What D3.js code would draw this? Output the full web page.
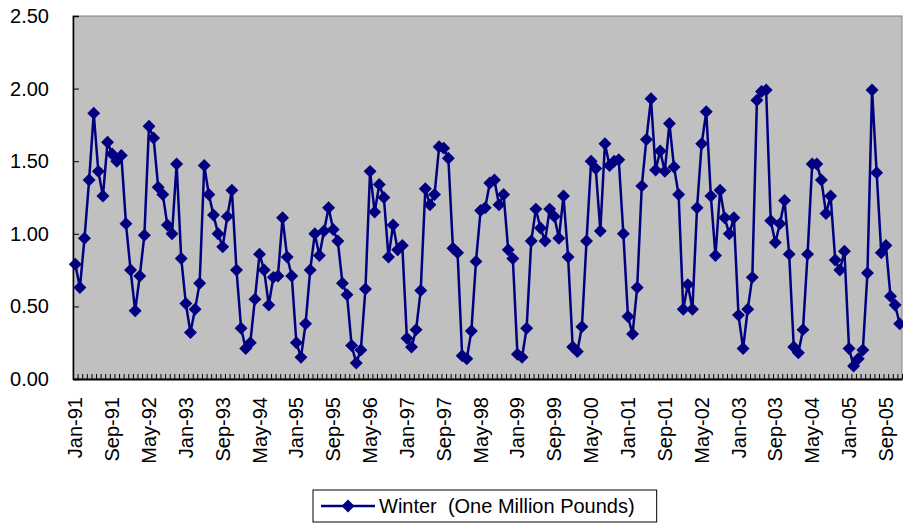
<!DOCTYPE html>
<html>
<head>
<meta charset="utf-8">
<title>Winter</title>
<script src="https://d3js.org/d3.v7.min.js"></script>
<style>
  body { margin: 0; background: #fff; }
  svg text { font-family: Arial, "Liberation Sans", sans-serif; fill: #000; }
</style>
</head>
<body>
<script>
// month names and years for the category axis
var monthNames = ["Jan","Feb","Mar","Apr","May","Jun","Jul","Aug","Sep","Oct","Nov","Dec"];
var years = [91,92,93,94,95,96,97,98,99,0,1,2,3,4,5];

// Winter (One Million Pounds), monthly, Jan-91 .. Dec-05
var y1991 = [0.79,0.63,0.97,1.37,1.83,1.43,1.26,1.63,1.55,1.50,1.54,1.07];
var y1992 = [0.75,0.47,0.71,0.99,1.74,1.66,1.32,1.27,1.06,1.00,1.48,0.83];
var y1993 = [0.52,0.32,0.48,0.66,1.47,1.27,1.13,1.00,0.91,1.12,1.30,0.75];
var y1994 = [0.35,0.21,0.25,0.55,0.86,0.75,0.51,0.70,0.71,1.11,0.84,0.71];
var y1995 = [0.25,0.15,0.38,0.75,1.00,0.85,1.02,1.18,1.03,0.95,0.66,0.58];
var y1996 = [0.23,0.11,0.20,0.62,1.43,1.15,1.34,1.25,0.84,1.06,0.89,0.92];
var y1997 = [0.28,0.22,0.34,0.61,1.31,1.20,1.27,1.60,1.59,1.52,0.90,0.87];
var y1998 = [0.16,0.14,0.33,0.81,1.16,1.18,1.35,1.37,1.20,1.27,0.89,0.83];
var y1999 = [0.17,0.15,0.35,0.95,1.17,1.04,0.95,1.17,1.12,0.97,1.26,0.84];
var y2000 = [0.22,0.19,0.36,0.95,1.50,1.45,1.02,1.62,1.47,1.50,1.51,1.00];
var y2001 = [0.43,0.31,0.63,1.33,1.65,1.93,1.44,1.57,1.43,1.76,1.46,1.27];
var y2002 = [0.48,0.65,0.48,1.18,1.62,1.84,1.26,0.85,1.30,1.11,1.00,1.11];
var y2003 = [0.44,0.21,0.48,0.70,1.92,1.98,1.99,1.09,0.94,1.07,1.23,0.86];
var y2004 = [0.22,0.18,0.34,0.86,1.48,1.48,1.37,1.14,1.26,0.82,0.75,0.88];
var y2005 = [0.21,0.09,0.14,0.20,0.73,1.99,1.42,0.87,0.92,0.57,0.51,0.38];

var xTickLabels = ["Jan-91","Sep-91","May-92","Jan-93","Sep-93","May-94","Jan-95","Sep-95",
  "May-96","Jan-97","Sep-97","May-98","Jan-99","Sep-99","May-00","Jan-01","Sep-01",
  "May-02","Jan-03","Sep-03","May-04","Jan-05","Sep-05"];
var yTicks = [0, 0.5, 1.0, 1.5, 2.0, 2.5];
var seriesName = "Winter  (One Million Pounds)";

var winter = [].concat(y1991,y1992,y1993,y1994,y1995,y1996,y1997,y1998,
                       y1999,y2000,y2001,y2002,y2003,y2004,y2005);
var categories = [];
years.forEach(function(yr){
  monthNames.forEach(function(m){
    categories.push(m + "-" + (yr < 10 ? "0" + yr : yr));
  });
});
var data = categories.map(function(c, i){ return {cat: c, v: winter[i]}; });

var W = 903, H = 525;
var plot = {left: 73, right: 902, top: 16, bottom: 379};
var navy = "#000080";

var svg = d3.select("body").append("svg")
    .attr("width", W)
    .attr("height", H);

var x = d3.scaleBand()
    .domain(categories)
    .range([plot.left, plot.right])
    .padding(0);
var xc = function(c){ return x(c) + x.bandwidth() / 2; };

var y = d3.scaleLinear()
    .domain([0, 2.5])
    .range([plot.bottom, plot.top]);

// plot area
svg.append("rect")
    .attr("x", plot.left)
    .attr("y", plot.top)
    .attr("width", plot.right - plot.left)
    .attr("height", plot.bottom - plot.top)
    .attr("fill", "#c0c0c0")
    .attr("stroke", "#808080")
    .attr("stroke-width", 1);

// y axis, ticks inside
var yAxis = svg.append("g")
    .attr("transform", "translate(" + plot.left + ",0)")
    .call(d3.axisLeft(y)
      .tickValues(yTicks)
      .tickSize(-6)
      .tickPadding(24)
      .tickFormat(d3.format(".2f")));
yAxis.select(".domain").attr("stroke", "#000").attr("stroke-width", 1.5);
yAxis.selectAll(".tick line").attr("stroke", "#000");
yAxis.selectAll(".tick text")
    .style("font-size", "20px")
    .attr("font-family", null);

// x axis: a tick at every category boundary, pointing up into the plot
var xb = d3.scaleLinear().domain([0, categories.length]).range([plot.left, plot.right]);
var xAxis = svg.append("g")
    .attr("transform", "translate(0," + plot.bottom + ")")
    .call(d3.axisBottom(xb)
      .tickValues(d3.range(categories.length + 1))
      .tickSize(-5)
      .tickSizeOuter(0)
      .tickFormat(""));
xAxis.select(".domain").attr("stroke", "#000").attr("stroke-width", 2);
xAxis.selectAll(".tick line").attr("stroke", "#000");

svg.append("g").selectAll("text")
    .data(xTickLabels)
    .enter().append("text")
    .attr("transform", function(d){
      return "translate(" + xc(d) + "," + (plot.bottom + 18) + ")rotate(-90)";
    })
    .attr("text-anchor", "end")
    .attr("dy", "0.35em")
    .style("font-size", "20px")
    .text(function(d){ return d; });

// series
var line = d3.line()
    .x(function(d){ return xc(d.cat); })
    .y(function(d){ return y(d.v); });

svg.append("path")
    .datum(data)
    .attr("d", line)
    .attr("fill", "none")
    .attr("stroke", navy)
    .attr("stroke-width", 2.5)
    .attr("stroke-linejoin", "round");

var diamond = d3.symbol().type(d3.symbolSquare).size(84);
svg.append("g").selectAll("path")
    .data(data)
    .enter().append("path")
    .attr("d", diamond)
    .attr("transform", function(d){
      return "translate(" + xc(d.cat) + "," + y(d.v) + ")rotate(45)";
    })
    .attr("fill", navy);

// legend
var lg = svg.append("g").attr("transform", "translate(313,490)");
var lbox = lg.append("rect")
    .attr("x", 0).attr("y", 0)
    .attr("height", 32)
    .attr("fill", "#fff")
    .attr("stroke", "#000")
    .attr("stroke-width", 1);
lg.append("line")
    .attr("x1", 8).attr("x2", 62)
    .attr("y1", 16).attr("y2", 16)
    .attr("stroke", navy)
    .attr("stroke-width", 2.5);
lg.append("path")
    .attr("d", diamond)
    .attr("transform", "translate(35,16)rotate(45)")
    .attr("fill", navy);
var ltext = lg.append("text")
    .attr("x", 66)
    .attr("y", 16)
    .attr("dy", "0.35em")
    .style("font-size", "20px")
    .style("white-space", "pre")
    .attr("xml:space", "preserve")
    .text(seriesName);
lbox.attr("width", 66 + ltext.node().getComputedTextLength() + 22);
</script>
</body>
</html>
